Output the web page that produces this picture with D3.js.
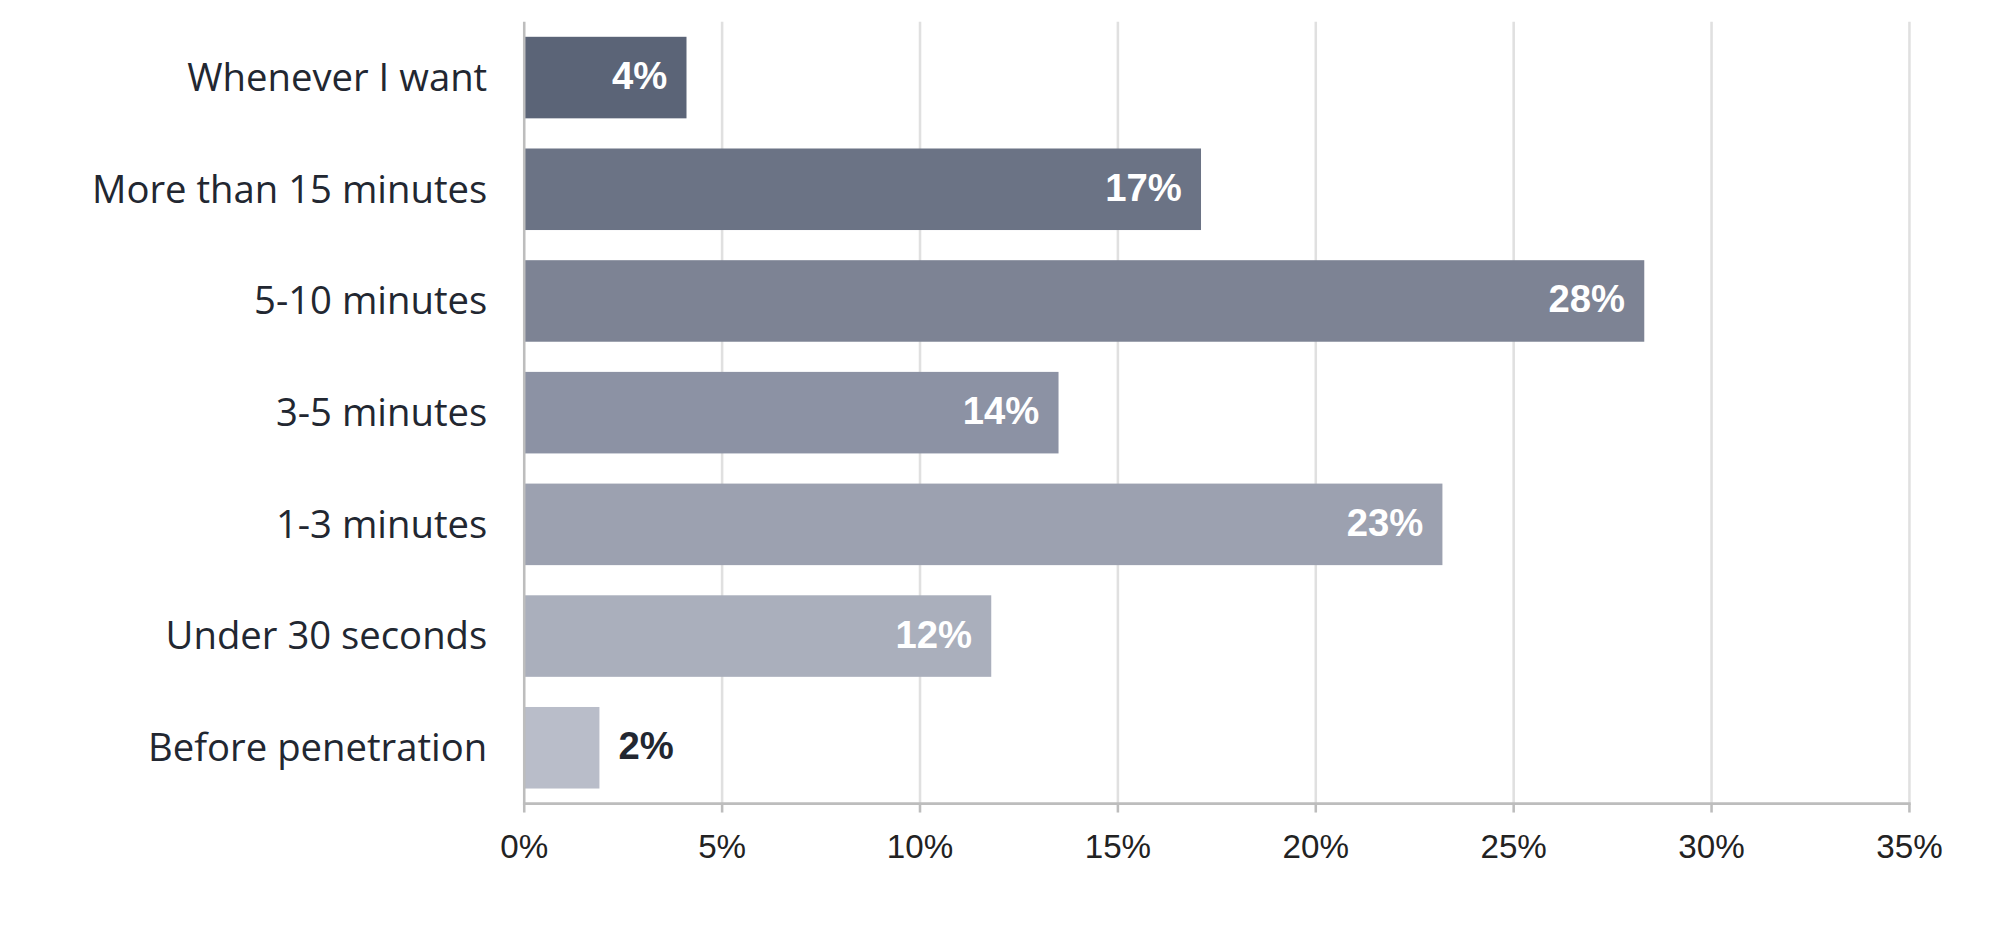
<!DOCTYPE html>
<html><head><meta charset="utf-8">
<script src="https://cdn.jsdelivr.net/npm/d3@7"></script>
<style>body{margin:0;background:#fff}svg{display:block}</style></head>
<body><svg id="c" width="2000" height="928" viewBox="0 0 1568 727.5"></svg>
<script>
const categories = ["Whenever I want","More than 15 minutes","5-10 minutes","3-5 minutes","1-3 minutes","Under 30 seconds","Before penetration"];
const values = [4.1, 17.1, 28.3, 13.5, 23.2, 11.8, 1.9];
const labels = ["4%","17%","28%","14%","23%","12%","2%"];
const colors = ["#5b6477","#6b7385","#7d8394","#8c92a4","#9ca1b0","#aaafbc","#b9bdc9"];
const ticks = [0,5,10,15,20,25,30,35];

const svg = d3.select("#c");
const x = d3.scaleLinear().domain([0,35]).range([411,1497]);
const y = d3.scaleBand().domain(categories).range([17,630]).paddingInner(0.27).paddingOuter(0.135);

svg.append("g").selectAll("line").data(ticks.slice(1)).join("line")
  .attr("x1",d=>x(d)).attr("x2",d=>x(d)).attr("y1",17).attr("y2",630)
  .attr("stroke","#e0e0e0").attr("stroke-width",2);

svg.append("g").selectAll("rect").data(values).join("rect")
  .attr("x",x(0)).attr("y",(d,i)=>y(categories[i])).attr("width",d=>x(d)-x(0))
  .attr("height",y.bandwidth()).attr("fill",(d,i)=>colors[i]);

svg.append("line").attr("x1",411).attr("x2",411).attr("y1",17).attr("y2",631).attr("stroke","#bdbdbd").attr("stroke-width",2);
svg.append("line").attr("x1",410).attr("x2",1498).attr("y1",630).attr("y2",630).attr("stroke","#bdbdbd").attr("stroke-width",2);
svg.append("g").selectAll("line").data(ticks).join("line")
  .attr("x1",d=>x(d)).attr("x2",d=>x(d)).attr("y1",630).attr("y2",637).attr("stroke","#bdbdbd").attr("stroke-width",2);

svg.append("g").selectAll("text").data(ticks).join("text")
  .attr("x",d=>x(d)).attr("y",673).attr("text-anchor","middle")
  .attr("font-family","Liberation Sans, Arial").attr("font-size",26).attr("fill","#222")
  .text(d=>d+"%");

svg.append("g").selectAll("text").data(categories).join("text")
  .attr("x",382).attr("y",d=>y(d)+y.bandwidth()/2).attr("dy","0.35em").attr("text-anchor","end")
  .attr("font-family","Open Sans, Noto Sans").attr("font-size",30).attr("fill","#222731")
  .text(d=>d);

svg.append("g").selectAll("text").data(values).join("text")
  .attr("x",d=> d<3 ? x(d)+15 : x(d)-15)
  .attr("y",(d,i)=>y(categories[i])+y.bandwidth()/2).attr("dy","0.3em")
  .attr("text-anchor",d=>d<3?"start":"end")
  .attr("font-family","Liberation Sans, Arial").attr("font-weight","bold").attr("font-size",30)
  .attr("fill",d=>d<3?"#222731":"#fff")
  .text((d,i)=>labels[i]);
</script></body></html>
